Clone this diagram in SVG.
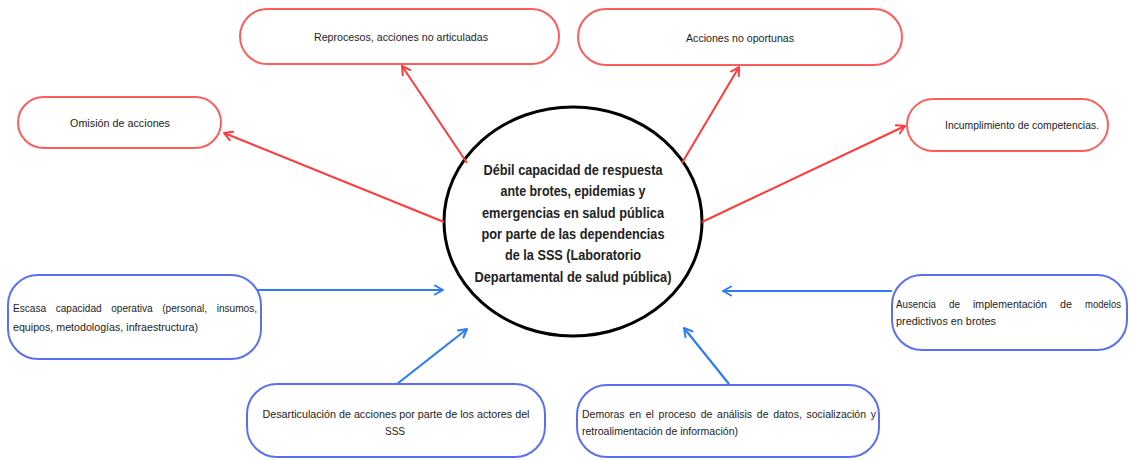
<svg xmlns="http://www.w3.org/2000/svg" width="1131" height="460" viewBox="0 0 1131 460">
<style>
.bg{fill:#ffffff}
.red{fill:#ffffff;stroke:#ff5c5c;stroke-width:2}
.blue{fill:#ffffff;stroke:#5b6ff2;stroke-width:2}
.center{fill:#ffffff;stroke:#000000;stroke-width:3}
.t{font-family:"Liberation Sans",Arial,sans-serif;font-size:11.5px;fill:#1c1c1c}
.tb{font-family:"Liberation Sans",Arial,sans-serif;font-size:15px;font-weight:bold;fill:#222222;text-anchor:middle}
.mid{text-anchor:middle}
.rl{stroke:#ff3b3b;stroke-width:2;fill:none}
.bl{stroke:#2e7bf5;stroke-width:2.2;fill:none}
</style>
<defs>
<marker id="ahr" markerUnits="userSpaceOnUse" markerWidth="12" markerHeight="12" refX="9" refY="5" orient="auto" viewBox="0 0 12 10">
<path d="M1,0.5 L9,5 L1,9.5" fill="none" stroke="#ff3b3b" stroke-width="2" stroke-linecap="round" stroke-linejoin="round"/>
</marker>
<marker id="ahb" markerUnits="userSpaceOnUse" markerWidth="12" markerHeight="12" refX="9" refY="5" orient="auto" viewBox="0 0 12 10">
<path d="M1,0.5 L9,5 L1,9.5" fill="none" stroke="#2e7bf5" stroke-width="2" stroke-linecap="round" stroke-linejoin="round"/>
</marker>
</defs>
<rect class="bg" x="0" y="0" width="1131" height="460"/>

<g id="n-center">
<ellipse class="center" cx="573" cy="221.5" rx="129" ry="114.5"/>
<text class="tb" x="573" y="174.7" textLength="179" lengthAdjust="spacingAndGlyphs">Débil capacidad de respuesta</text>
<text class="tb" x="573" y="196.1" textLength="145" lengthAdjust="spacingAndGlyphs">ante brotes, epidemias y</text>
<text class="tb" x="573" y="217.5" textLength="182" lengthAdjust="spacingAndGlyphs">emergencias en salud pública</text>
<text class="tb" x="573" y="238.9" textLength="183" lengthAdjust="spacingAndGlyphs">por parte de las dependencias</text>
<text class="tb" x="573" y="260.3" textLength="136" lengthAdjust="spacingAndGlyphs">de la SSS (Laboratorio</text>
<text class="tb" x="573" y="281.7" textLength="197" lengthAdjust="spacingAndGlyphs">Departamental de salud pública)</text>
</g>

<g id="connectors">
<line class="rl" x1="444" y1="222" x2="224" y2="133" marker-end="url(#ahr)"/>
<line class="rl" x1="467" y1="163" x2="402" y2="66" marker-end="url(#ahr)"/>
<line class="rl" x1="682" y1="163" x2="739" y2="67" marker-end="url(#ahr)"/>
<line class="rl" x1="702" y1="222" x2="905" y2="126" marker-end="url(#ahr)"/>
<line class="bl" x1="237" y1="290" x2="443" y2="290" marker-end="url(#ahb)"/>
<line class="bl" x1="892" y1="291" x2="723" y2="291" marker-end="url(#ahb)"/>
<line class="bl" x1="397" y1="384" x2="467" y2="329" marker-end="url(#ahb)"/>
<line class="bl" x1="729" y1="384" x2="684" y2="328" marker-end="url(#ahb)"/>
</g>

<g id="n-omision">
<rect class="red" x="18" y="97" width="203" height="51" rx="25.5"/>
<text class="t mid" x="120" y="127" textLength="100" lengthAdjust="spacingAndGlyphs">Omisión de acciones</text>
</g>
<g id="n-reprocesos">
<rect class="red" x="240" y="9" width="319" height="55" rx="27.5"/>
<text class="t mid" x="401" y="41" textLength="174" lengthAdjust="spacingAndGlyphs">Reprocesos, acciones no articuladas</text>
</g>
<g id="n-acciones">
<rect class="red" x="578" y="9" width="324" height="56" rx="28"/>
<text class="t mid" x="740" y="42" textLength="108" lengthAdjust="spacingAndGlyphs">Acciones no oportunas</text>
</g>
<g id="n-incumplimiento">
<rect class="red" x="907" y="99" width="201" height="52" rx="26"/>
<text class="t" x="945" y="129" textLength="154" lengthAdjust="spacingAndGlyphs">Incumplimiento de competencias.</text>
</g>

<g id="n-escasa">
<rect class="blue" x="8" y="275" width="253" height="84" rx="30"/>
<text class="t" x="13" y="311.5" textLength="244" lengthAdjust="spacingAndGlyphs" word-spacing="7.7">Escasa capacidad operativa (personal, insumos,</text>
<text class="t" x="13" y="330.5" textLength="185" lengthAdjust="spacingAndGlyphs">equipos, metodologías, infraestructura)</text>
</g>
<g id="n-desarticulacion">
<rect class="blue" x="247" y="384" width="298" height="73" rx="30"/>
<text class="t mid" x="396" y="417.5" textLength="267" lengthAdjust="spacingAndGlyphs">Desarticulación de acciones por parte de los actores del</text>
<text class="t mid" x="395" y="434.5" textLength="20" lengthAdjust="spacingAndGlyphs">SSS</text>
</g>
<g id="n-demoras">
<rect class="blue" x="577" y="385" width="302" height="72" rx="30"/>
<text class="t" x="582" y="417.5" textLength="294" lengthAdjust="spacingAndGlyphs" word-spacing="2">Demoras en el proceso de análisis de datos, socialización y</text>
<text class="t" x="582" y="435" textLength="156" lengthAdjust="spacingAndGlyphs">retroalimentación de información)</text>
</g>
<g id="n-ausencia">
<rect class="blue" x="892" y="275" width="235" height="75" rx="30"/>
<text class="t" x="896" y="307.5" textLength="40" lengthAdjust="spacingAndGlyphs">Ausencia</text>
<text class="t" x="949" y="307.5" textLength="11" lengthAdjust="spacingAndGlyphs">de</text>
<text class="t" x="973" y="307.5" textLength="74" lengthAdjust="spacingAndGlyphs">implementación</text>
<text class="t" x="1060" y="307.5" textLength="12" lengthAdjust="spacingAndGlyphs">de</text>
<text class="t" x="1085" y="307.5" textLength="36" lengthAdjust="spacingAndGlyphs">modelos</text>
<text class="t" x="896" y="324.5" textLength="100" lengthAdjust="spacingAndGlyphs">predictivos en brotes</text>
</g>
</svg>
